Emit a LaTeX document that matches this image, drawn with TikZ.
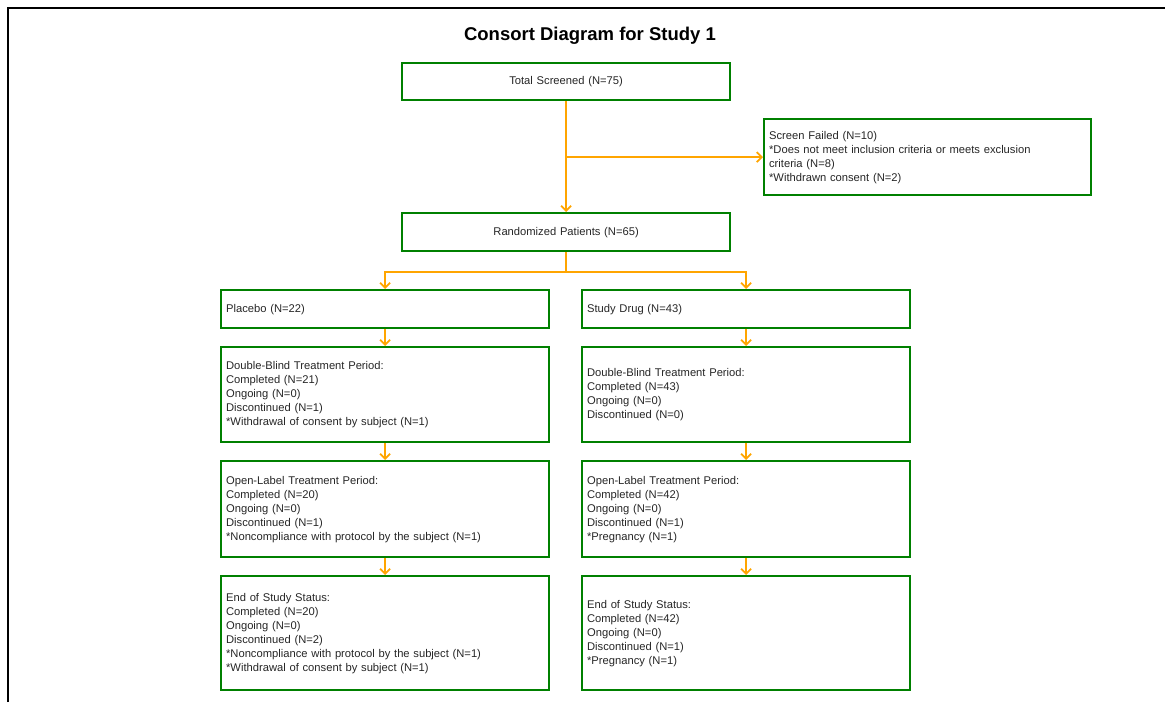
\documentclass[tikz,border=0pt]{standalone}
\usepackage{fontspec}
\setmainfont{Liberation Sans}
\usetikzlibrary{arrows.meta}
\definecolor{boxgreen}{RGB}{0,128,0}
\definecolor{arrorange}{RGB}{255,165,0}
\begin{document}
\begin{tikzpicture}[x=1pt, y=-1pt, >={Straight Barb[length=5pt,width=10pt,line width=1.8pt]},
  box/.style={draw=boxgreen, line width=2.2pt, anchor=north west, inner xsep=5pt, inner ysep=0pt,
    align=left, text=black!85, font=\fontsize{11.2}{14}\selectfont},
  wide/.style={box, text width=318pt},
  arr/.style={draw=arrorange, line width=1.8pt}]
\useasboundingbox (0,0) rectangle (1165,702);
\draw[line width=2pt] (8,702) -- (8,8) -- (1165,8);
\node[font=\bfseries\fontsize{18.5}{22}\selectfont] (title) at (590,36) {Consort Diagram for Study 1};
\node[wide, align=center, minimum height=37pt] (ts) at (401,62) {Total Screened (N=75)};
\node[box, text width=317pt, minimum height=76pt] (sf) at (763,118)
  {Screen Failed (N=10)\\{}*Does not meet inclusion criteria or meets exclusion\\criteria (N=8)\\{}*Withdrawn consent (N=2)};
\node[wide, align=center, minimum height=38pt] (rp) at (401,212) {Randomized Patients (N=65)};
\node[wide, minimum height=38pt] (pl) at (220,289) {Placebo (N=22)};
\node[wide, minimum height=38pt] (sd) at (581,289) {Study Drug (N=43)};
\node[wide, minimum height=95pt] (db1) at (220,346)
  {Double-Blind Treatment Period:\\Completed (N=21)\\Ongoing (N=0)\\Discontinued (N=1)\\{}*Withdrawal of consent by subject (N=1)};
\node[wide, minimum height=95pt] (db2) at (581,346)
  {Double-Blind Treatment Period:\\Completed (N=43)\\Ongoing (N=0)\\Discontinued (N=0)};
\node[wide, minimum height=96pt] (ol1) at (220,460)
  {Open-Label Treatment Period:\\Completed (N=20)\\Ongoing (N=0)\\Discontinued (N=1)\\{}*Noncompliance with protocol by the subject (N=1)};
\node[wide, minimum height=96pt] (ol2) at (581,460)
  {Open-Label Treatment Period:\\Completed (N=42)\\Ongoing (N=0)\\Discontinued (N=1)\\{}*Pregnancy (N=1)};
\node[wide, minimum height=114pt] (es1) at (220,575)
  {End of Study Status:\\Completed (N=20)\\Ongoing (N=0)\\Discontinued (N=2)\\{}*Noncompliance with protocol by the subject (N=1)\\{}*Withdrawal of consent by subject (N=1)};
\node[wide, minimum height=114pt] (es2) at (581,575)
  {End of Study Status:\\Completed (N=42)\\Ongoing (N=0)\\Discontinued (N=1)\\{}*Pregnancy (N=1)};
\draw[arr, ->] (ts) -- (rp);
\draw[arr, ->] (ts.south |- sf.west) -- (sf.west);
\draw[arr] (rp.south) -- ++(0,20) coordinate (split);
\draw[arr, ->] (split) -| (pl.north);
\draw[arr, ->] (split) -| (sd.north);
\draw[arr, ->] (pl) -- (db1);
\draw[arr, ->] (db1) -- (ol1);
\draw[arr, ->] (ol1) -- (es1);
\draw[arr, ->] (sd) -- (db2);
\draw[arr, ->] (db2) -- (ol2);
\draw[arr, ->] (ol2) -- (es2);
\end{tikzpicture}
\end{document}
